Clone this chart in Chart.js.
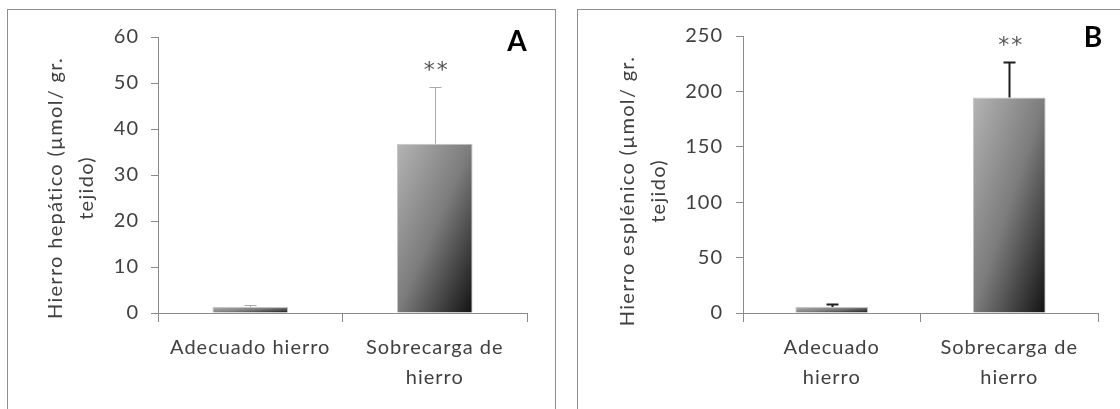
<!DOCTYPE html>
<html>
<head>
<meta charset="utf-8">
<script src="https://cdn.jsdelivr.net/npm/chart.js@4.4.0/dist/chart.umd.min.js"></script>
<style>
  html, body { margin: 0; padding: 0; background: #fff; width: 1120px; height: 409px; overflow: hidden; }
  .panel { position: absolute; top: 9px; height: 430px; border: 1px solid #8e8e8e; box-sizing: border-box; }
  #panelA { left: 7px; width: 549px; }
  #panelB { left: 577px; width: 560px; }
  canvas { position: absolute; top: 0; }
  #hepatico { left: 0; }
  #esplenico { left: 560px; }
</style>
</head>
<body>
<div class="panel" id="panelA"></div>
<div class="panel" id="panelB"></div>
<canvas id="hepatico" width="560" height="409"></canvas>
<canvas id="esplenico" width="560" height="409"></canvas>
<script>
// Panel A - hierro hepatico
const categoriesA = [["Adecuado hierro"], ["Sobrecarga de", "hierro"]];
const valuesA = [1.3, 36.8];
const errorsA = [0.4, 12.3];
const starsA = ["", "**"];
const yTitleA = ["Hierro hepático (µmol/ gr.", "tejido)"];

// Panel B - hierro esplenico
const categoriesB = [["Adecuado", "hierro"], ["Sobrecarga de", "hierro"]];
const valuesB = [5.5, 194.5];
const errorsB = [2.8, 32];
const starsB = ["", "**"];
const yTitleB = ["Hierro esplénico (µmol/ gr.", "tejido)"];

const FONT = "Lato";
const textColor = "#404040";
const axisColor = "#8a8a8a";
const barPct = 0.41;

// diagonal gray gradient like the Excel fill (corner to corner)
const barFill = (context) => {
  const chart = context.chart;
  const { chartArea, scales } = chart;
  if (!chartArea || context.type !== "data") return "#888";
  const x = scales.x.getPixelForValue(context.dataIndex);
  const w = (scales.x.width / chart.data.labels.length) * barPct;
  const top = scales.y.getPixelForValue(context.raw);
  const bottom = scales.y.getPixelForValue(0);
  const h = Math.max(bottom - top, 1);
  const left = x - w / 2;
  const k = (2 * w * h) / (w * w + h * h);
  const g = chart.ctx.createLinearGradient(left, top, left + k * h, top + k * w);
  g.addColorStop(0, "#b4b4b4");
  g.addColorStop(0.5, "#7c7c7c");
  g.addColorStop(1, "#121212");
  return g;
};

const extras = {
  id: "extras",
  beforeDraw(chart) {
    chart.ctx.letterSpacing = "1px";
  },
  afterDatasetsDraw(chart, args, opts) {
    const { ctx, scales } = chart;
    ctx.save();
    // error bars
    ctx.strokeStyle = opts.errColor;
    ctx.lineWidth = opts.errWidth;
    opts.values.forEach((v, i) => {
      const x = Math.round(scales.x.getPixelForValue(i)) + 0.5;
      const y0 = scales.y.getPixelForValue(v);
      const y1 = Math.round(scales.y.getPixelForValue(v + opts.errors[i])) + 0.5;
      ctx.beginPath();
      ctx.moveTo(x, y0);
      ctx.lineTo(x, y1);
      ctx.moveTo(x - 6, y1);
      ctx.lineTo(x + 6, y1);
      ctx.stroke();
    });
    // significance stars
    ctx.fillStyle = "#555";
    ctx.font = "22px 'DejaVu Sans'";
    ctx.letterSpacing = "2px";
    ctx.textAlign = "center";
    ctx.textBaseline = "alphabetic";
    opts.stars.forEach((s, i) => {
      if (!s) return;
      const x = scales.x.getPixelForValue(i);
      const y = scales.y.getPixelForValue(opts.values[i] + opts.errors[i]) - 10;
      ctx.fillText(s, x + 2, y);
    });
    // panel letter
    ctx.textBaseline = "middle";
    ctx.fillStyle = "#000";
    ctx.font = "bold 28px " + FONT;
    ctx.letterSpacing = "0px";
    ctx.fillText(opts.letter, opts.letterX, opts.letterY);
    // rotated y title
    ctx.letterSpacing = "1.3px";
    ctx.fillStyle = textColor;
    ctx.font = "20px " + FONT;
    ctx.translate(opts.titleX, opts.titleY);
    ctx.rotate(-Math.PI / 2);
    opts.title.forEach((line, j) => {
      ctx.fillText(line, 0, j * opts.titleGap);
    });
    ctx.restore();
  },
};

const makeChart = (id, labels, values, errors, stars, cfg) => {
  const ctx = document.getElementById(id).getContext("2d");
  return new Chart(ctx, {
    type: "bar",
    data: {
      labels: labels,
      datasets: [
        {
          data: values,
          backgroundColor: barFill,
          borderColor: "#c4c4c4",
          borderWidth: 1,
          barPercentage: barPct,
          categoryPercentage: 1,
        },
      ],
    },
    options: {
      responsive: false,
      animation: false,
      devicePixelRatio: 1,
      layout: { padding: { left: 0, right: cfg.padRight, top: cfg.padTop, bottom: 0 } },
      plugins: {
        legend: { display: false },
        tooltip: { enabled: false },
        extras: {
          values: values,
          errors: errors,
          stars: stars,
          errColor: cfg.errColor,
          errWidth: cfg.errWidth,
          letter: cfg.letter,
          letterX: cfg.letterX,
          letterY: cfg.letterY,
          title: cfg.title,
          titleX: cfg.titleX,
          titleY: cfg.titleY,
          titleGap: cfg.titleGap,
        },
      },
      scales: {
        x: {
          afterFit: (scale) => { scale.height = 96; },
          grid: { drawOnChartArea: false, color: axisColor, tickLength: 9, offset: true },
          border: { color: axisColor },
          ticks: {
            color: textColor,
            padding: 11,
            maxRotation: 0,
            autoSkip: false,
            font: { family: FONT, size: 20, lineHeight: 30 / 20 },
          },
        },
        y: {
          min: 0,
          max: cfg.max,
          afterFit: (scale) => { scale.width = cfg.axisX; },
          grid: { drawOnChartArea: false, color: axisColor, tickLength: 7 },
          border: { color: axisColor },
          ticks: {
            stepSize: cfg.step,
            color: textColor,
            padding: cfg.tickPad,
            font: { family: FONT, size: 20 },
          },
        },
      },
    },
    plugins: [extras],
  });
};

makeChart("hepatico", categoriesA, valuesA, errorsA, starsA, {
  max: 60, step: 10, axisX: 158, padRight: 33, padTop: 37, tickPad: 12,
  errColor: "#a8a8a8", errWidth: 1,
  letter: "A", letterX: 517, letterY: 42,
  title: yTitleA, titleX: 56, titleY: 188, titleGap: 31,
});

makeChart("esplenico", categoriesB, valuesB, errorsB, starsB, {
  max: 250, step: 50, axisX: 183, padRight: 22, padTop: 36, tickPad: 13,
  errColor: "#1e1e1e", errWidth: 2,
  letter: "B", letterX: 533, letterY: 38,
  title: yTitleB, titleX: 68, titleY: 191, titleGap: 31,
});
</script>
</body>
</html>
